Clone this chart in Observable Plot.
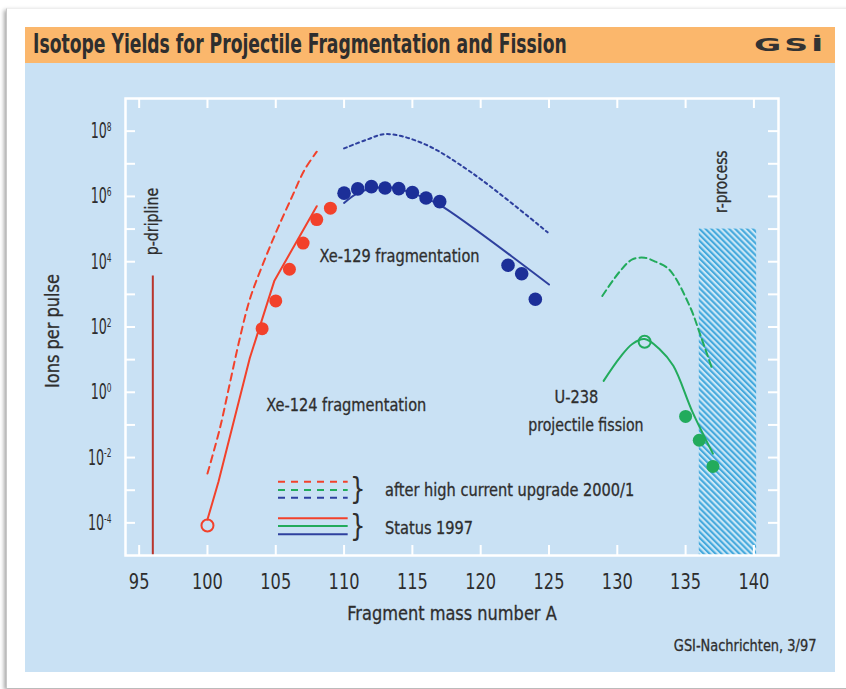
<!DOCTYPE html>
<html>
<head>
<meta charset="utf-8">
<script src="https://cdn.jsdelivr.net/npm/d3@7"></script>
<script src="https://cdn.jsdelivr.net/npm/@observablehq/plot@0.6"></script>
<style>
  html, body { margin: 0; padding: 0; background: #ffffff; }
  body { width: 846px; height: 689px; overflow: hidden; position: relative;
         font-family: "Liberation Sans Narrow", "DejaVu Sans Condensed", "Arial Narrow", "Liberation Sans", sans-serif; }
  #card { position: absolute; left: 6px; top: 8px; width: 860px; height: 679px; background: #fff;
          box-shadow: -2px 2px 4px rgba(0,0,0,0.35); border-left: 1px solid #c8c8c8; border-top: 1px solid #eeeeee; }
  #titlebar { position: absolute; left: 25px; top: 27px; width: 810px; height: 36px; background: #fbb76c; }
  #panel { position: absolute; left: 25px; top: 63px; width: 810px; height: 609px; background: #c9e1f4; }
  #title { position: absolute; left: 33px; top: 27px; height: 36px; line-height: 35px; font-size: 26px;
           font-weight: bold; color: #2e2e2e; white-space: nowrap; transform: scaleX(0.735); transform-origin: 0 50%; }
  #logo { position: absolute; left: 754px; top: 30px; height: 30px; line-height: 30px; font-size: 17px;
          font-weight: 900; color: #333; letter-spacing: 1.5px; font-family: "DejaVu Sans", sans-serif;
          transform: scaleX(1.95); transform-origin: 0 50%; white-space: nowrap; }
  #caption { position: absolute; right: 30px; top: 636px; font-size: 16px; color: #2e2e2e; white-space: nowrap;
             transform: scaleX(0.9); transform-origin: 100% 50%; -webkit-text-stroke: 0.3px #2e2e2e; }
  #chart { position: absolute; left: 0; top: 0; }
</style>
</head>
<body>
<div id="card"></div>
<div id="titlebar"></div>
<div id="panel"></div>
<div id="title">Isotope Yields for Projectile Fragmentation and Fission</div>
<div id="logo">GSİ</div>
<div id="caption">GSI-Nachrichten, 3/97</div>
<svg width="0" height="0" style="position:absolute">
  <defs>
    <pattern id="hatch" patternUnits="userSpaceOnUse" width="4.2" height="4.2" patternTransform="rotate(-45)">
      <rect width="4.2" height="4.2" fill="#cbe7f6"></rect>
      <rect width="2.1" height="4.2" fill="#45a9dd"></rect>
    </pattern>
  </defs>
</svg>
<div id="chart"></div>
<script>
// ---------- data (mass number A, log10 of ions per pulse) ----------
const xe124DotsA    = [104, 105, 106, 107, 108, 109];
const xe124DotsLog  = [1.95, 2.8, 3.77, 4.57, 5.29, 5.64];
const xe124OpenA    = [100];
const xe124OpenLog  = [-4.08];
const xe124LineA    = [100, 100.8, 103.1, 104.9, 108.0];
const xe124LineLog  = [-3.9, -2.75, 1.05, 3.42, 5.7];
const xe124UpA      = [100.0, 100.9, 101.6, 102.3, 103.1, 104.1, 105.1, 106.2, 107.1, 108.0];
const xe124UpLog    = [-2.49, -1.12, 0.2, 1.53, 2.85, 3.97, 4.98, 6.0, 6.81, 7.37];

const xe129DotsA    = [110, 111, 112, 113, 114, 115, 116, 117, 122, 123, 124];
const xe129DotsLog  = [6.10, 6.23, 6.30, 6.26, 6.24, 6.12, 5.95, 5.84, 3.89, 3.63, 2.85];
const xe129LineA    = [110.0, 111.0, 112.2, 113.5, 115.0, 116.0, 117.0, 125.0];
const xe129LineLog  = [5.8, 6.1, 6.26, 6.27, 6.1, 5.93, 5.74, 3.3];
const xe129UpA      = [110.0, 111.6, 113.1, 115.8, 119.4, 124.9];
const xe129UpLog    = [7.47, 7.73, 7.91, 7.62, 6.71, 4.9];

const u238DotsA     = [135, 136, 137];
const u238DotsLog   = [-0.74, -1.47, -2.27];
const u238OpenA     = [132];
const u238OpenLog   = [1.55];
const u238LineA     = [129.0, 130.2, 131.1, 132.0, 133.1, 134.1, 135.5, 137.0];
const u238LineLog   = [0.35, 1.07, 1.48, 1.63, 1.32, 0.81, -0.6, -1.88];
const u238UpA       = [128.9, 130.2, 131.1, 132.0, 132.8, 133.8, 135.3, 136.1, 136.9];
const u238UpLog     = [2.95, 3.71, 4.07, 4.12, 4.0, 3.76, 2.64, 1.73, 0.77];

const pDriplineA = 96, pDriplineTopLog = 3.56;
const rProcessA = [136, 140.2], rProcessTopLog = 5.0;

const xTickValues   = [95, 100, 105, 110, 115, 120, 125, 130, 135, 140];
const yTickExps     = [-4, -3, -2, -1, 0, 1, 2, 3, 4, 5, 6, 7, 8];
const yLabelExps    = [-4, -2, 0, 2, 4, 6, 8];

const legendUpgradeText = "after high current upgrade 2000/1";
const legendStatusText  = "Status 1997";

// ---------- styling ----------
const FONT = '"Liberation Sans Narrow", "DejaVu Sans Condensed", "Arial Narrow", "Liberation Sans", sans-serif';
const RED = "#f2412b", BLUE = "#1c2f98", BLUE_LINE = "#2e409e", GREEN = "#22ab5c", DRIP = "#b9352c", TXT = "#2e2e2e";
const W = 846, H = 689, ML = 125, MR = 68, MT = 98, MB = 134;
const FW = W - ML - MR, FH = H - MT - MB;

const zip = (a, b) => a.map((v, i) => ({A: v, y: 10 ** b[i]}));
const lineOpts = (stroke, extra = {}) => ({x: "A", y: "y", stroke, strokeWidth: 2, ...extra});
const txt = (extra = {}) => ({fill: TXT, stroke: TXT, strokeWidth: 0.3, ...extra});

// legend layout (data units on the chart scales)
const legX1 = 105.2, legX2 = 110.3, legBraceX = 111.0, legTextX = 113.0;
const legendUp = [{c: RED, l: -2.74}, {c: GREEN, l: -2.99}, {c: BLUE_LINE, l: -3.23}];
const legendSt = [{c: RED, l: -3.86}, {c: GREEN, l: -4.1}, {c: BLUE_LINE, l: -4.35}];

const chart = Plot.plot({
  width: W, height: H,
  marginLeft: ML, marginRight: MR, marginTop: MT, marginBottom: MB,
  style: {background: "transparent", fontFamily: FONT, color: TXT, overflow: "visible"},
  x: {domain: [94, 141.8]},
  y: {type: "log", domain: [1e-5, 1e9]},
  marks: [
    // r-process band
    Plot.rect([0], {x1: rProcessA[0], x2: rProcessA[1], y1: 1e-5, y2: 10 ** rProcessTopLog, fill: "url(#hatch)"}),
    // p-dripline
    Plot.ruleX([pDriplineA], {x: d => d, y1: 1e-5, y2: 10 ** pDriplineTopLog, stroke: DRIP, strokeWidth: 2}),
    // frame & inward ticks
    Plot.frame({stroke: "white", strokeWidth: 2.5}),
    Plot.tickY(yTickExps, {y: d => 10 ** d, stroke: "white", strokeWidth: 2, insetRight: FW - 10}),
    Plot.tickY(yTickExps, {y: d => 10 ** d, stroke: "white", strokeWidth: 2, insetLeft: FW - 10}),
    Plot.tickX(xTickValues, {x: d => d, stroke: "white", strokeWidth: 2, insetTop: FH - 10}),
    Plot.tickX(xTickValues, {x: d => d, stroke: "white", strokeWidth: 2, insetBottom: FH - 10}),
    Plot.axisX(xTickValues, {tickSize: 0, tickPadding: 18, fontSize: 22, label: null, ...txt()}),
    Plot.axisY(yLabelExps.map(e => 10 ** e), {tickSize: 0, tickPadding: 14, fontSize: 22, label: null, ...txt(),
      tickFormat: d => "10^" + Math.round(Math.log10(d))}),
    Plot.text(["Fragment mass number A"], {frameAnchor: "bottom", lineAnchor: "middle", dy: 58, fontSize: 20, ...txt()}),
    Plot.text(["Ions per pulse"], {frameAnchor: "left", textAnchor: "middle", dx: -73, dy: 4, rotate: -90, fontSize: 20, ...txt()}),

    // Xe-124
    Plot.line(zip(xe124UpA, xe124UpLog), lineOpts(RED, {strokeDasharray: "7,5", curve: "catmull-rom"})),
    Plot.line(zip(xe124LineA, xe124LineLog), lineOpts(RED, {curve: "linear"})),
    Plot.dot(zip(xe124DotsA, xe124DotsLog), {x: "A", y: "y", r: 6.5, fill: RED}),
    Plot.dot(zip(xe124OpenA, xe124OpenLog), {x: "A", y: "y", r: 6, stroke: RED, strokeWidth: 2, fill: "none"}),

    // Xe-129
    Plot.line(zip(xe129UpA, xe129UpLog), lineOpts(BLUE_LINE, {strokeDasharray: "3,3.5", curve: "catmull-rom"})),
    Plot.line(zip(xe129LineA, xe129LineLog), lineOpts(BLUE_LINE, {curve: "catmull-rom"})),
    Plot.dot(zip(xe129DotsA, xe129DotsLog), {x: "A", y: "y", r: 6.8, fill: BLUE}),

    // U-238
    Plot.line(zip(u238UpA, u238UpLog), lineOpts(GREEN, {strokeDasharray: "7,4", curve: "catmull-rom"})),
    Plot.line(zip(u238LineA, u238LineLog), lineOpts(GREEN, {curve: "catmull-rom"})),
    Plot.dot(zip(u238DotsA, u238DotsLog), {x: "A", y: "y", r: 6.5, fill: GREEN}),
    Plot.dot(zip(u238OpenA, u238OpenLog), {x: "A", y: "y", r: 6, stroke: GREEN, strokeWidth: 2, fill: "none"}),

    // annotations
    Plot.text(["p-dripline"], {x: pDriplineA, y: 10 ** 5.23, rotate: -90, fontSize: 17.5, ...txt()}),
    Plot.text(["r-process"], {x: 137.6, y: 10 ** 6.45, rotate: -90, fontSize: 17, ...txt()}),
    Plot.text(["Xe-129 fragmentation"], {x: 108.2, y: 10 ** 4.17, textAnchor: "start", fontSize: 18, ...txt()}),
    Plot.text(["Xe-124 fragmentation"], {x: 104.3, y: 10 ** -0.41, textAnchor: "start", fontSize: 18, ...txt()}),
    Plot.text(["U-238"], {x: 127.0, y: 10 ** -0.14, fontSize: 18, ...txt()}),
    Plot.text(["projectile fission"], {x: 127.7, y: 10 ** -1.01, fontSize: 17.5, ...txt()}),

    // legend
    Plot.ruleY(legendUp, {y: d => 10 ** d.l, x1: legX1, x2: legX2, stroke: d => d.c, strokeWidth: 2, strokeDasharray: "7,6"}),
    Plot.ruleY(legendSt, {y: d => 10 ** d.l, x1: legX1, x2: legX2, stroke: d => d.c, strokeWidth: 2}),
    Plot.text(["}"], {x: legBraceX, y: 10 ** -2.99, fontSize: 30, fill: TXT}),
    Plot.text(["}"], {x: legBraceX, y: 10 ** -4.1, fontSize: 30, fill: TXT}),
    Plot.text([legendUpgradeText], {x: legTextX, y: 10 ** -2.99, textAnchor: "start", fontSize: 18, ...txt()}),
    Plot.text([legendStatusText], {x: legTextX, y: 10 ** -4.15, textAnchor: "start", fontSize: 18, ...txt()})
  ]
});

document.getElementById("chart").appendChild(chart);

// superscript exponents for y tick labels
const NS = "http://www.w3.org/2000/svg";
chart.querySelectorAll('g[aria-label="y-axis tick label"] text').forEach(t => {
  const s = t.textContent;
  if (!s.includes("^")) return;
  const [base, exp] = s.split("^");
  t.textContent = base;
  const ts = document.createElementNS(NS, "tspan");
  ts.setAttribute("dy", "-0.55em");
  ts.setAttribute("font-size", "13");
  ts.textContent = exp;
  t.appendChild(ts);
});

// condense text horizontally (the original uses a condensed typeface);
// each text is positioned by its own transform, so the scale is about its anchor
const squeeze = {"y-axis tick label": 0.64, "x-axis tick label": 0.82};
chart.querySelectorAll("text").forEach(t => {
  const g = t.closest("g[aria-label]");
  const k = (g && squeeze[g.getAttribute("aria-label")]) || 0.9;
  const tr = t.getAttribute("transform") || "";
  t.setAttribute("transform", `${tr} scale(${k},1)`);
});
</script>
</body>
</html>
